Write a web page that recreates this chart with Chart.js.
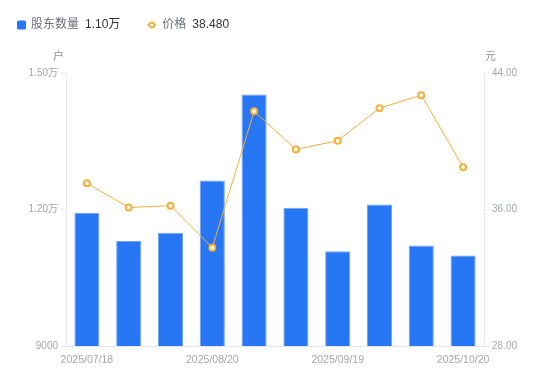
<!DOCTYPE html>
<html>
<head>
<meta charset="utf-8">
<script src="https://cdn.jsdelivr.net/npm/chart.js@4"></script>
<style>
  html, body { margin: 0; padding: 0; background: #fff; }
  #wrap { width: 550px; height: 381px; position: relative; }
</style>
</head>
<body>
<div id="wrap"><canvas id="chart"></canvas></div>
<script>
// data
const dates = ["2025/07/18", "2025/07/31", "2025/08/10", "2025/08/20", "2025/08/31",
               "2025/09/10", "2025/09/19", "2025/09/30", "2025/10/10", "2025/10/20"];
const holders = [11930, 11310, 11490, 12640, 14530, 12040, 11080, 12110, 11210, 10990];
const prices = [37.54, 36.12, 36.22, 33.76, 41.76, 39.52, 40.03, 41.94, 42.70, 38.48];

const FONT = "'Liberation Sans', 'Noto Sans CJK SC', sans-serif";
const BLUE = "#2777F5";
const ORANGE = "#F7AE37";
const TICK_COLOR = "#a3a6b1";
const AXIS_COLOR = "#e6e7ea";

function fmtHolders(v) {
  return v >= 10000 ? (v / 10000).toFixed(2) + "万" : String(v);
}

// legend with latest values + axis unit titles
const decorPlugin = {
  id: "decor",
  afterDraw(chart) {
    const ctx = chart.ctx;
    const area = chart.chartArea;
    ctx.save();
    ctx.textBaseline = "middle";
    const y = 25;
    ctx.font = "12px " + FONT;

    // holders entry
    let x = 17;
    ctx.fillStyle = BLUE;
    ctx.beginPath();
    ctx.roundRect(x, y - 4.5, 9, 9, 1.5);
    ctx.fill();
    x += 14;
    ctx.fillStyle = "#6b6f7b";
    ctx.fillText("股东数量", x, y);
    x += ctx.measureText("股东数量").width + 6;
    ctx.fillStyle = "#333";
    const v1 = fmtHolders(holders[holders.length - 1]);
    ctx.fillText(v1, x, y);
    x += ctx.measureText(v1).width + 27;

    // price entry
    ctx.strokeStyle = ORANGE;
    ctx.lineWidth = 1.5;
    ctx.beginPath();
    ctx.moveTo(x, y);
    ctx.lineTo(x + 9, y);
    ctx.stroke();
    ctx.beginPath();
    ctx.arc(x + 4.5, y, 2.5, 0, Math.PI * 2);
    ctx.fillStyle = "#fff";
    ctx.fill();
    ctx.lineWidth = 1.8;
    ctx.stroke();
    x += 15;
    ctx.fillStyle = "#6b6f7b";
    ctx.fillText("价格", x, y);
    x += ctx.measureText("价格").width + 6;
    ctx.fillStyle = "#333";
    ctx.fillText(prices[prices.length - 1].toFixed(3), x, y);

    // axis units
    ctx.font = "11px " + FONT;
    ctx.fillStyle = "#8f939e";
    ctx.textAlign = "right";
    ctx.fillText("户", area.left - 2, 57);
    ctx.textAlign = "left";
    ctx.fillText("元", area.right + 1, 57);
    ctx.restore();
  }
};

new Chart(document.getElementById("chart"), {
  data: {
    labels: dates,
    datasets: [
      {
        type: "line",
        label: "价格",
        data: prices,
        yAxisID: "y1",
        order: 1,
        borderColor: ORANGE,
        borderWidth: 1,
        pointRadius: 3,
        pointBorderWidth: 2,
        pointBackgroundColor: "#fff",
        pointBorderColor: ORANGE,
        tension: 0
      },
      {
        type: "bar",
        label: "股东数量",
        data: holders,
        yAxisID: "y",
        order: 2,
        backgroundColor: BLUE,
        borderColor: "#6ea2f6",
        borderWidth: { left: 1, right: 1, top: 1, bottom: 0 },
        categoryPercentage: 1,
        barPercentage: 0.6
      }
    ]
  },
  options: {
    responsive: true,
    maintainAspectRatio: false,
    animation: false,
    layout: { padding: { top: 73, left: 0, right: 0, bottom: 0 } },
    plugins: {
      legend: { display: false },
      tooltip: { enabled: false }
    },
    scales: {
      x: {
        offset: true,
        grid: { display: false },
        border: { color: AXIS_COLOR },
        ticks: {
          autoSkip: false,
          maxRotation: 0,
          padding: 0,
          color: TICK_COLOR,
          font: { family: FONT, size: 10.5 },
          callback: (v, i) => (i % 3 === 0 ? dates[i] : "")
        },
        afterFit: (s) => { s.height = 35; }
      },
      y: {
        position: "left",
        min: 9000,
        max: 15000,
        grid: { drawOnChartArea: false, tickLength: 5, color: AXIS_COLOR },
        border: { color: AXIS_COLOR },
        ticks: {
          stepSize: 3000,
          padding: 3,
          color: TICK_COLOR,
          font: { family: FONT, size: 10 },
          callback: (v) => fmtHolders(v)
        },
        afterFit: (s) => { s.width = 66; }
      },
      y1: {
        position: "right",
        min: 28,
        max: 44,
        grid: { drawOnChartArea: false, tickLength: 5, color: AXIS_COLOR },
        border: { color: AXIS_COLOR },
        ticks: {
          stepSize: 8,
          padding: 3,
          color: TICK_COLOR,
          font: { family: FONT, size: 10 },
          callback: (v) => v.toFixed(2)
        },
        afterFit: (s) => { s.width = 66; }
      }
    }
  },
  plugins: [decorPlugin]
});
</script>
</body>
</html>
